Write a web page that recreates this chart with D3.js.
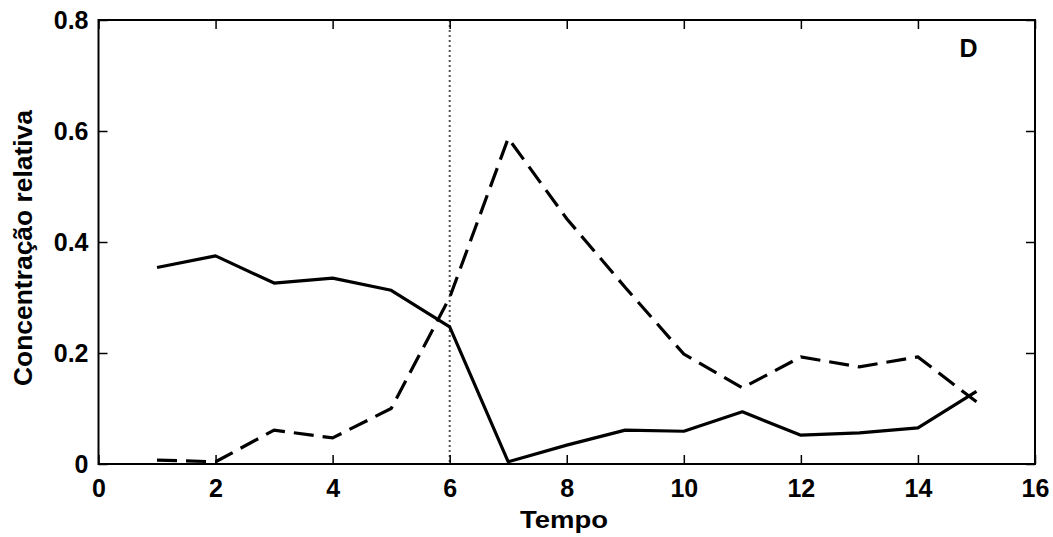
<!DOCTYPE html>
<html>
<head>
<meta charset="utf-8">
<script src="https://cdn.jsdelivr.net/npm/d3@7"></script>
<style>
  html, body { margin: 0; padding: 0; background: #fff; }
  svg { display: block; }
  text { font-family: "Liberation Sans", Arial, sans-serif; font-weight: bold; fill: #000; }
</style>
</head>
<body>
<svg id="chart" width="1053" height="537"></svg>
<script>
// ---- data ----
const tempo = [1, 2, 3, 4, 5, 6, 7, 8, 9, 10, 11, 12, 13, 14, 15];
const solidSeries = [0.354, 0.375, 0.326, 0.335, 0.313, 0.247, 0.004, 0.034, 0.061, 0.059, 0.094, 0.052, 0.056, 0.065, 0.131];
const dashedSeries = [0.007, 0.004, 0.061, 0.047, 0.100, 0.300, 0.587, 0.442, 0.318, 0.198, 0.137, 0.193, 0.175, 0.193, 0.112];
const xTicks = [0, 2, 4, 6, 8, 10, 12, 14, 16];
const yTicks = [0, 0.2, 0.4, 0.6, 0.8];
const yTickLabels = ["0", "0.2", "0.4", "0.6", "0.8"];
const markerX = 6;
const panelLabel = "D";
const xLabel = "Tempo";
const yLabel = "Concentração relativa";

// ---- layout ----
const svg = d3.select("#chart");
const mLeft = 98.5, mRight = 1035, mTop = 20, mBottom = 464;
const x = d3.scaleLinear().domain([0, 16]).range([mLeft, mRight]);
const y = d3.scaleLinear().domain([0, 0.8]).range([mBottom, mTop]);
const tickLen = 9;

// dotted vertical marker
svg.append("line")
  .attr("x1", x(markerX)).attr("x2", x(markerX))
  .attr("y1", y(0.8)).attr("y2", y(0))
  .attr("stroke", "#555").attr("stroke-width", 2)
  .attr("stroke-dasharray", "2,3");

const line = d3.line().x(d => x(d[0])).y(d => y(d[1]));

svg.append("path")
  .datum(tempo.map((t, i) => [t, solidSeries[i]]))
  .attr("d", line).attr("fill", "none")
  .attr("stroke", "#000").attr("stroke-width", 3.2)
  .attr("stroke-linejoin", "round");

svg.append("path")
  .datum(tempo.map((t, i) => [t, dashedSeries[i]]))
  .attr("d", line).attr("fill", "none")
  .attr("stroke", "#000").attr("stroke-width", 3.2)
  .attr("stroke-dasharray", "20,9");

// axes (ticks inward) on all four sides
const fmtY = d => yTickLabels[yTicks.indexOf(d)];
const axB = svg.append("g").attr("transform", `translate(0,${mBottom})`)
  .call(d3.axisBottom(x).tickValues(xTicks).tickSizeInner(-tickLen).tickSizeOuter(0).tickPadding(15));
const axT = svg.append("g").attr("transform", `translate(0,${mTop})`)
  .call(d3.axisTop(x).tickValues(xTicks).tickSizeInner(-tickLen).tickSizeOuter(0).tickFormat(""));
const axL = svg.append("g").attr("transform", `translate(${mLeft},0)`)
  .call(d3.axisLeft(y).tickValues(yTicks).tickSizeInner(-tickLen).tickSizeOuter(0).tickPadding(10).tickFormat(fmtY));
const axR = svg.append("g").attr("transform", `translate(${mRight},0)`)
  .call(d3.axisRight(y).tickValues(yTicks).tickSizeInner(-tickLen).tickSizeOuter(0).tickFormat(""));

[axB, axT, axL, axR].forEach(a => {
  a.select(".domain").remove();
  a.selectAll(".tick line").attr("stroke", "#000").attr("stroke-width", 1.5);
  a.selectAll("text").attr("font-family", "Liberation Sans, Arial, sans-serif")
    .attr("font-weight", "bold").attr("font-size", 25).attr("fill", "#000");
});

// frame
svg.append("rect")
  .attr("x", mLeft).attr("y", mTop)
  .attr("width", mRight - mLeft).attr("height", mBottom - mTop)
  .attr("fill", "none").attr("stroke", "#000").attr("stroke-width", 2);

// panel label
svg.append("text").attr("x", 968.5).attr("y", 57)
  .attr("text-anchor", "middle").attr("font-size", 25).text(panelLabel);

// axis labels
svg.append("text").attr("x", 564).attr("y", 528)
  .attr("text-anchor", "middle").attr("font-size", 24)
  .attr("textLength", 88).attr("lengthAdjust", "spacingAndGlyphs")
  .text(xLabel);

svg.append("text")
  .attr("transform", `translate(32,${248}) rotate(-90)`)
  .attr("text-anchor", "middle").attr("font-size", 26)
  .attr("textLength", 276).attr("lengthAdjust", "spacingAndGlyphs")
  .text(yLabel);
</script>
</body>
</html>
